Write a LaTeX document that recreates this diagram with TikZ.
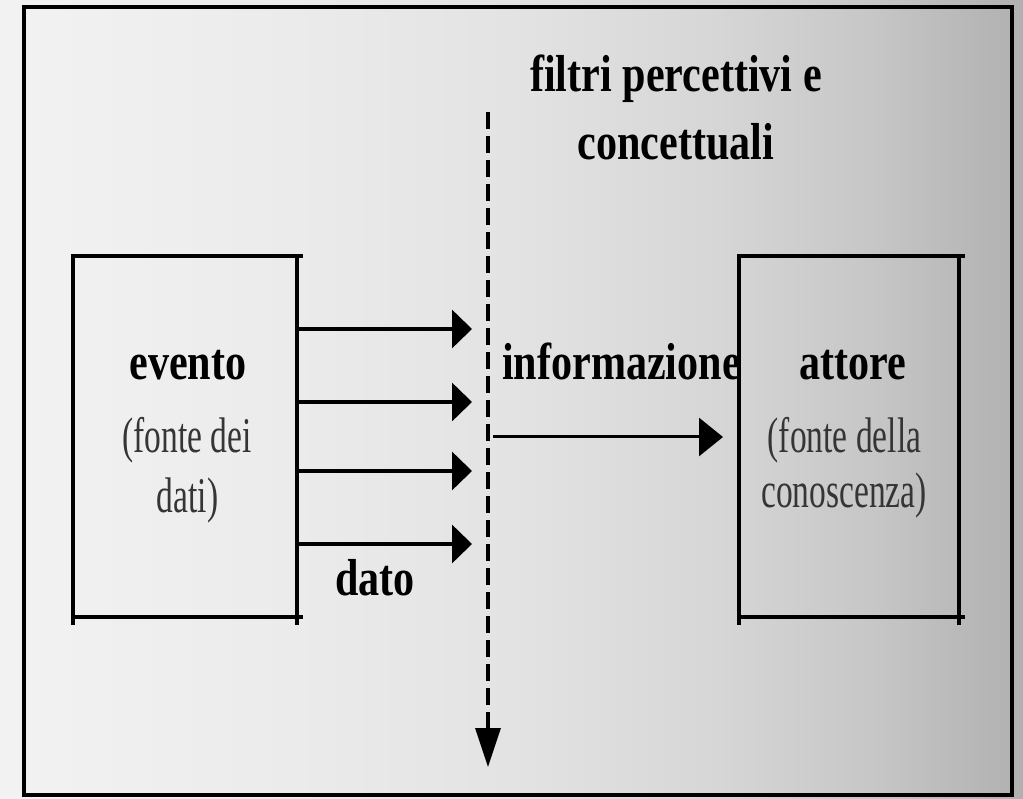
\documentclass[tikz,border=0pt]{standalone}
\usepackage{fontspec}
\setmainfont{Liberation Serif}
\newfontfamily\bcond[FakeStretch=0.81]{Liberation Serif}
\newfontfamily\rcond[FakeStretch=0.67]{Liberation Serif}
\usetikzlibrary{arrows.meta,calc}
\definecolor{paren}{HTML}{353535}
\pgfdeclarehorizontalshading{bgshade}{100bp}{color(0bp)=(white!95!black); color(25bp)=(white!95!black); color(40bp)=(white!92!black); color(50bp)=(white!89!black); color(60bp)=(white!84!black); color(67.5bp)=(white!78!black); color(75bp)=(white!69!black); color(100bp)=(white!69!black)}
\tikzset{
  boldtxt/.style={inner sep=0pt, anchor=base, font=\bcond\bfseries\fontsize{52}{60}\selectfont},
  regtxt/.style={inner sep=0pt, anchor=base, text=paren, font=\rcond\fontsize{50}{58}\selectfont},
  boxshape/.style={inner sep=0pt, draw=none, minimum height=361pt},
  boxline/.style={line width=3.5pt, line cap=rect},
  datarrow/.style={line width=3.5pt, -{Triangle[length=20pt,width=38pt]}},
  inforrow/.style={line width=3pt, -{Triangle[length=24pt,width=38pt]}},
  filterline/.style={line width=3.5pt, dash pattern=on 17pt off 7pt, -{Triangle[length=39pt,width=25pt]}},
}
\begin{document}
\begin{tikzpicture}[x=1pt,y=-1pt]
\useasboundingbox (0,0) rectangle (1023,799);
\shade[shading=bgshade] (0,0) rectangle (1023,799);
% outer frame
\draw[line width=4pt] (24,7) rectangle (1012,795);

% boxes
\node[boxshape, minimum width=224pt] (ev) at (185,436.5) {};
\node[boxshape, minimum width=220pt] (at) at (849,436.5) {};
\foreach \b in {ev,at}{
  \draw[boxline] (\b.north west) -- ($(\b.north east)+(4,0)$);
  \draw[boxline] (\b.south west) -- ($(\b.south east)+(4,0)$);
  \draw[boxline] (\b.north west) -- ($(\b.south west)+(0,6)$);
  \draw[boxline] (\b.north east) -- ($(\b.south east)+(0,6)$);
}

% texts
\node[boldtxt] (f1) at (676,92) {filtri percettivi e};
\node[boldtxt] (f2) at (676,160) {concettuali};
\node[boldtxt] (evt) at (188,380) {evento};
\node[regtxt] (ev1) at (187,453) {(fonte dei};
\node[regtxt] (ev2) at (187.5,512) {dati)};
\node[boldtxt] (att) at (852.5,380) {attore};
\node[regtxt] (at1) at (844.5,453) {(fonte della};
\node[regtxt] (at2) at (844,507) {conoscenza)};
\node[boldtxt, anchor=base west] (inf) at (502,380) {informazione};
\node[boldtxt, anchor=base west] (dat) at (335,595) {dato};

% filter line
\coordinate (ftop) at (488,112);
\coordinate (fbot) at (488,767);
\draw[filterline] (ftop) -- (fbot);

% data arrows
\foreach \i/\y in {1/329,2/402,3/471,4/544}{
  \coordinate (t\i) at (472,\y);
  \draw[datarrow] (ev.east |- t\i) -- (t\i);
}

% information arrow
\coordinate (i1) at (493,437);
\coordinate (i2) at (723,437);
\draw[inforrow] (i1) -- (i2);
\end{tikzpicture}
\end{document}
